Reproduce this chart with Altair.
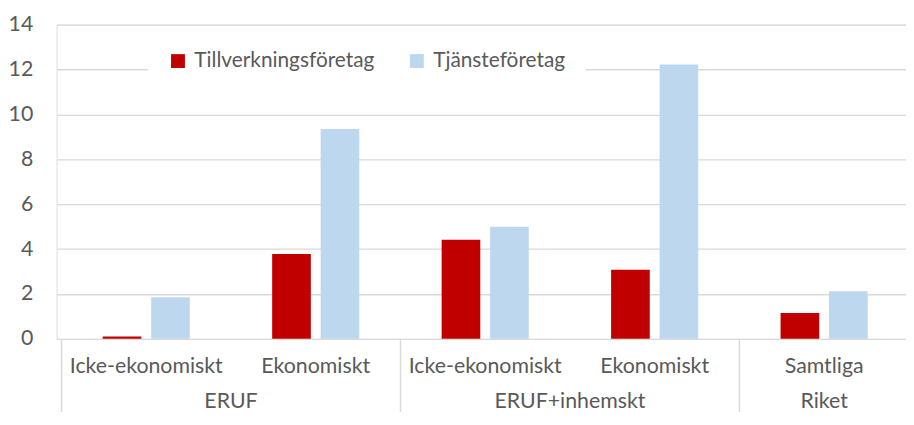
import altair as alt
import pandas as pd

# ---- data ----
categories = ["Icke-ekonomiskt", "Ekonomiskt", "Icke-ekonomiskt", "Ekonomiskt", "Samtliga"]
groups = ["ERUF", "ERUF", "ERUF+inhemskt", "ERUF+inhemskt", "Riket"]
series = ["Tillverkningsföretag", "Tjänsteföretag"]
tillverkning = [0.1, 3.78, 4.42, 3.08, 1.15]
tjanste = [1.85, 9.35, 4.99, 12.23, 2.12]
y_ticks = [0, 2, 4, 6, 8, 10, 12, 14]

colors = ["#C00000", "#BDD7EE"]
TEXT = "#595959"
GRID = "#D9D9D9"
FONT = "Lato"
FS = 21.5

W, H = 857, 317
CAT_PX = 173  # pixel width of one category slot

cat_df = pd.DataFrame({"kategori": categories, "grupp": groups, "idx": list(range(len(categories)))})
rows = []
for i, c in enumerate(categories):
    rows.append({"idx": i, "kategori": c, "serie": series[0], "varde": tillverkning[i]})
    rows.append({"idx": i, "kategori": c, "serie": series[1], "varde": tjanste[i]})
long_df = pd.DataFrame(rows)

xscale = alt.Scale(domain=[0, W / CAT_PX], nice=False, zero=False)
yscale = alt.Scale(domain=[0, 14], nice=False)

bars = alt.Chart(long_df).transform_calculate(
    pos="datum.idx + 0.5 + (datum.serie === 'Tillverkningsföretag' ? -0.143 : 0.143)"
).mark_bar(size=39).encode(
    x=alt.X("pos:Q", scale=xscale, axis=None),
    y=alt.Y("varde:Q", scale=yscale,
            axis=alt.Axis(values=y_ticks, grid=True, gridColor=GRID, gridWidth=1.3,
                          domain=False, ticks=False, labelFontSize=FS, labelColor=TEXT,
                          labelFont=FONT, labelPadding=24, title=None)),
    color=alt.Color("serie:N", scale=alt.Scale(domain=series, range=colors),
                    legend=alt.Legend(orient="none", legendX=92, legendY=6, direction="horizontal",
                                      fillColor="white", padding=20, symbolType="square",
                                      symbolSize=196, symbolStrokeWidth=0, labelFontSize=21,
                                      labelColor=TEXT, labelFont=FONT, columnPadding=32,
                                      labelOffset=6, labelLimit=400, title=None)),
)

sub_labels = alt.Chart(cat_df).transform_calculate(
    center="datum.idx + 0.5"
).mark_text(fontSize=FS, color=TEXT, font=FONT, baseline="middle").encode(
    x=alt.X("center:Q", scale=xscale),
    y=alt.value(H + 28),
    text="kategori:N",
)

grp_base = alt.Chart(cat_df).transform_aggregate(
    lo="min(idx)", hi="max(idx)", groupby=["grupp"]
).transform_calculate(center="(datum.lo + datum.hi + 1) / 2")

grp_labels = grp_base.mark_text(fontSize=FS, color=TEXT, font=FONT, baseline="middle").encode(
    x=alt.X("center:Q", scale=xscale),
    y=alt.value(H + 64),
    text="grupp:N",
)

separators = grp_base.mark_rule(color=GRID, strokeWidth=1.5).encode(
    x=alt.X("lo:Q", scale=xscale),
    y=alt.value(H),
    y2=alt.value(H + 100),
)

chart = alt.layer(bars, separators, sub_labels, grp_labels).properties(
    width=W, height=H,
    autosize=alt.AutoSizeParams(type="none"),
    padding={"left": 49, "top": 15, "right": 0, "bottom": 72},
).configure_view(stroke=None).configure(font=FONT)

chart.save("out.html", embed_options={"renderer": "svg", "actions": False})
